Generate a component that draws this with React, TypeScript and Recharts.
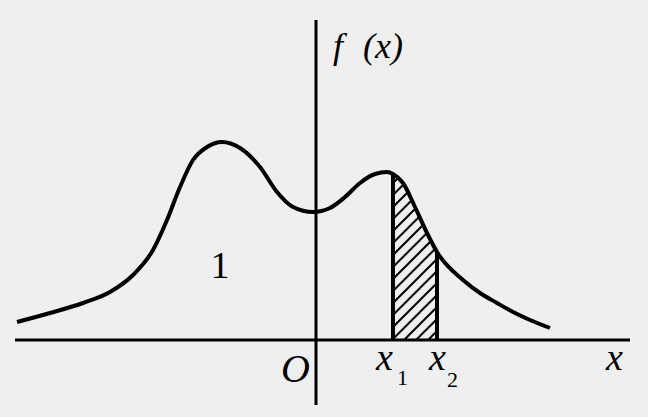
import { ComposedChart, Line, Area, XAxis, YAxis, ReferenceLine } from "recharts";

// curve (x in units, f(x) in density units)
const xs = [-2.99, -2.66, -2.33, -2.06, -1.83, -1.63, -1.49, -1.36, -1.23, -1.09, -0.94, -0.76, -0.56, -0.39, -0.23, -0.03, 0.14, 0.29, 0.44, 0.59, 0.71, 0.77, 0.87, 0.99, 1.11, 1.21, 1.47, 1.64, 1.81, 1.97, 2.14, 2.34];
const fs = [0.045, 0.0675, 0.0925, 0.12, 0.1625, 0.225, 0.3, 0.3825, 0.45, 0.4825, 0.495, 0.48, 0.4325, 0.37, 0.3325, 0.32, 0.33, 0.3575, 0.3925, 0.415, 0.42, 0.415, 0.3925, 0.3325, 0.2675, 0.22, 0.15, 0.1175, 0.0925, 0.07, 0.05, 0.03];

const x1 = 0.77;
const x2 = 1.21;

const xAxisRange = [-3.01, 3.14];
const yAxisRange = [-0.1625, 0.8];

const data = xs.map((x, i) => ({
  x,
  f: fs[i],
  shade: x >= x1 && x <= x2 ? fs[i] : null,
}));

const f1 = fs[xs.indexOf(x1)];
const f2 = fs[xs.indexOf(x2)];

const serif = "'Liberation Serif', 'DejaVu Serif', 'Times New Roman', serif";

const txt = (italic: boolean, size: number) => ({
  fontFamily: serif,
  fontStyle: italic ? "italic" : "normal",
  fontSize: size,
});

export default function App() {
  return (
    <div style={{ position: "absolute", left: 0, top: 0, width: 648, height: 417, background: "#efefef", fontFamily: serif }}>
      <ComposedChart width={648} height={417} data={data} margin={{ top: 0, right: 0, bottom: 0, left: 0 }}>
        <defs>
          <pattern id="hatch" patternUnits="userSpaceOnUse" width={12} height={12}>
            <path d="M-3,3 L3,-3 M0,12 L12,0 M9,15 L15,9" stroke="#000" strokeWidth={2} />
          </pattern>
        </defs>
        <XAxis type="number" dataKey="x" domain={[-3.16, 3.32]} allowDataOverflow hide />
        <YAxis type="number" domain={[-0.1925, 0.85]} allowDataOverflow hide />
        <Area
          dataKey="shade"
          type="monotone"
          fill="url(#hatch)"
          fillOpacity={1}
          stroke="none"
          baseValue={0}
          dot={false}
          activeDot={false}
          connectNulls={false}
          isAnimationActive={false}
        />
        <ReferenceLine segment={[{ x: xAxisRange[0], y: 0 }, { x: xAxisRange[1], y: 0 }]} stroke="#000" strokeWidth={3} />
        <ReferenceLine segment={[{ x: 0, y: yAxisRange[0] }, { x: 0, y: yAxisRange[1] }]} stroke="#000" strokeWidth={3} />
        <ReferenceLine segment={[{ x: x1, y: 0 }, { x: x1, y: f1 }]} stroke="#000" strokeWidth={4} />
        <ReferenceLine segment={[{ x: x2, y: 0 }, { x: x2, y: f2 }]} stroke="#000" strokeWidth={4} />
        <Line dataKey="f" type="monotone" stroke="#000" strokeWidth={4} dot={false} activeDot={false} isAnimationActive={false} />
      </ComposedChart>
      <svg width={648} height={417} style={{ position: "absolute", left: 0, top: 0, pointerEvents: "none" }}>
        <text x={333} y={58} style={txt(true, 36)}>f</text>
        <text x={363} y={58} style={txt(true, 36)}>(x)</text>
        <text x={281} y={382} style={txt(true, 40)}>O</text>
        <text x={376} y={370} style={txt(true, 38)}>x</text>
        <text x={397} y={385} style={txt(false, 22)}>1</text>
        <text x={429} y={370} style={txt(true, 38)}>x</text>
        <text x={447} y={387} style={txt(false, 22)}>2</text>
        <text x={606} y={370} style={txt(true, 38)}>x</text>
        <text x={220} y={278} textAnchor="middle" style={txt(false, 38)}>1</text>
      </svg>
    </div>
  );
}
